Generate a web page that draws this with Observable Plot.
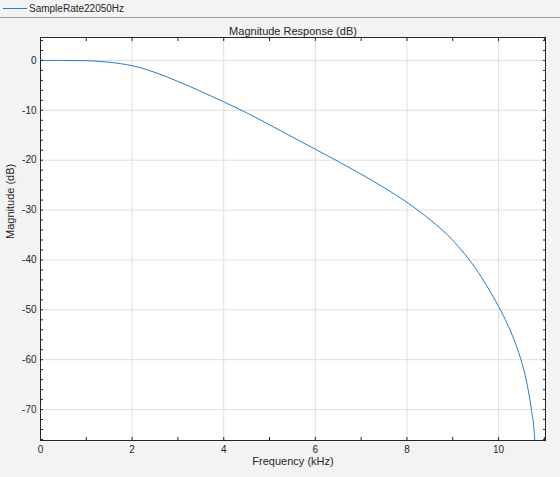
<!DOCTYPE html>
<html>
<head>
<meta charset="utf-8">
<script src="https://cdn.jsdelivr.net/npm/d3@7"></script>
<script src="https://cdn.jsdelivr.net/npm/@observablehq/plot@0.6"></script>
<style>
  html, body { margin: 0; padding: 0; background: #f3f3f3; width: 560px; height: 477px; overflow: hidden; }
  #legend { border-bottom: 1px solid #9a9a9a; display: flex; align-items: center; font: 10px "Liberation Sans", Arial, sans-serif; color: #262626; box-sizing: border-box; height: 18px; }
  #legend .swatch { display: inline-block; width: 24px; height: 0; border-top: 1px solid #1f7ecf; margin: 0 2px 0 3px; }
</style>
</head>
<body>
<div id="legend"><span class="swatch"></span><span id="legendText"></span></div>
<div id="chart"></div>
<script>
const seriesName = "SampleRate22050Hz";
const titleText = "Magnitude Response (dB)";
const xLabel = "Frequency (kHz)";
const yLabel = "Magnitude (dB)";

const freqKHz = [0, 0.5, 1.0, 1.3, 1.5, 1.75, 2.0, 2.25, 2.5, 3.0, 3.5, 4.0, 4.5, 5.0, 5.5, 6.0, 6.5, 7.0, 7.5, 8.0, 8.5, 9.0, 9.25, 9.5, 9.75, 10.0, 10.2, 10.4, 10.55, 10.65, 10.72, 10.79, 10.81];
const magDB   = [0, 0, -0.05, -0.2, -0.35, -0.65, -1.05, -1.65, -2.4, -4.2, -6.2, -8.3, -10.5, -12.9, -15.35, -17.8, -20.25, -22.8, -25.5, -28.45, -31.9, -36.05, -38.7, -41.7, -45.3, -49.3, -53.0, -57.5, -62.0, -66.2, -70.2, -76.15, -80.0];

const xMajor = [0, 2, 4, 6, 8, 10];
const xAllTicks = [0, 1, 2, 3, 4, 5, 6, 7, 8, 9, 10, 11];
const yMajor = [0, -10, -20, -30, -40, -50, -60, -70];
const yAllTicks = [4, 2, 0, -2, -4, -6, -8, -10, -12, -14, -16, -18, -20, -22, -24, -26, -28, -30, -32, -34, -36, -38, -40, -42, -44, -46, -48, -50, -52, -54, -56, -58, -60, -62, -64, -66, -68, -70, -72, -74, -76];

document.getElementById("legendText").textContent = seriesName;

const data = freqKHz.map((f, i) => ({f, m: magDB[i]}));

const chart = Plot.plot({
  width: 560,
  height: 459,
  marginTop: 19,
  marginBottom: 37,
  marginLeft: 40,
  marginRight: 15,
  style: {background: "transparent", fontFamily: "'Liberation Sans', Arial, sans-serif", fontSize: "10px", color: "#262626"},
  x: {domain: [0, 11.025]},
  y: {domain: [-76.2, 4.6]},
  marks: [
    Plot.frame({fill: "white", stroke: "none"}),
    Plot.gridX(xMajor, {stroke: "#dfdfdf", strokeOpacity: 1}),
    Plot.gridY(yMajor, {stroke: "#dfdfdf", strokeOpacity: 1}),
    Plot.line(data, {x: "f", y: "m", stroke: "#1f7ecf", strokeWidth: 1, curve: "monotone-x", clip: true}),
    Plot.axisX(xMajor, {anchor: "bottom", tickSize: 0, tickPadding: 5, label: null, fontSize: 10, tickFormat: d => String(d)}),
    Plot.axisY(yMajor, {anchor: "left", tickSize: 0, tickPadding: 4, label: null, fontSize: 10, tickFormat: d => String(d)}),
    Plot.axisX(xAllTicks, {anchor: "bottom", tickSize: -3, fill: "none", label: null}),
    Plot.axisX(xAllTicks, {anchor: "top", tickSize: -3, fill: "none", label: null}),
    Plot.axisY(yAllTicks, {anchor: "left", tickSize: -3, fill: "none", label: null}),
    Plot.axisY(yAllTicks, {anchor: "right", tickSize: -3, fill: "none", label: null}),
    Plot.frame({stroke: "#262626", strokeWidth: 1}),
    Plot.text([titleText], {frameAnchor: "top", dy: -10, fontSize: 11, fill: "#262626"}),
    Plot.text([xLabel], {frameAnchor: "bottom", dy: 24, fontSize: 11, fill: "#262626"}),
    Plot.text([yLabel], {frameAnchor: "left", dx: -30, rotate: -90, fontSize: 11, fill: "#262626"})
  ]
});
document.getElementById("chart").appendChild(chart);
</script>
</body>
</html>
